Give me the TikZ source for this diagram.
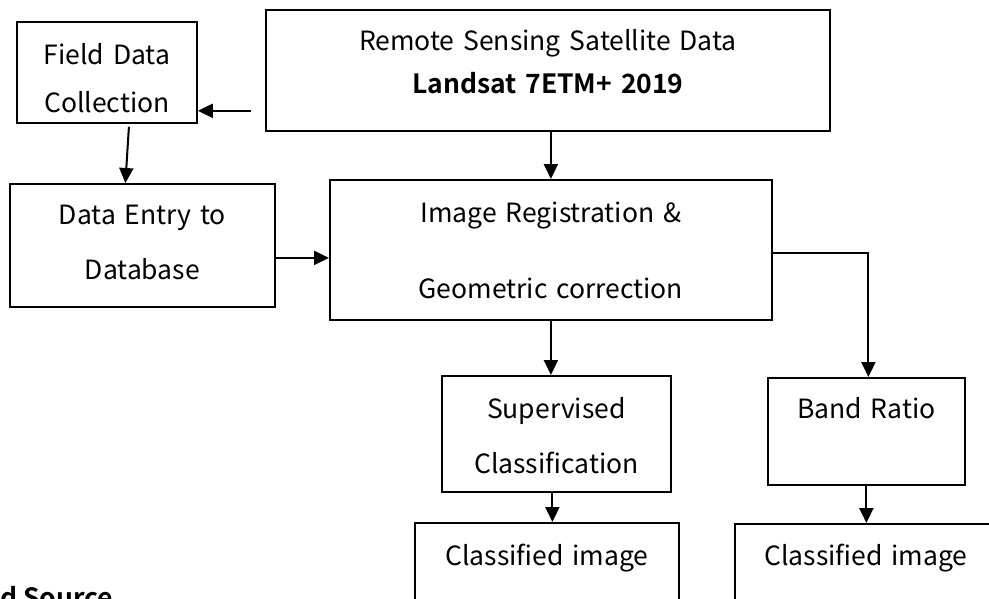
\documentclass[tikz,border=0pt]{standalone}
\usepackage{fontspec}
\setmainfont{Noto Sans CJK SC}[BoldFont={Noto Sans CJK SC Bold}]
\usetikzlibrary{arrows.meta}
\tikzset{
  flowbox/.style={draw,line width=1.8pt,anchor=north west,inner sep=0pt,align=center,font=\fontsize{26.5}{36}\selectfont},
  flowarrow/.style={line width=2pt,-{Triangle[length=15pt,width=14pt]}}
}
\begin{document}
\begin{tikzpicture}[x=1pt,y=-1pt]
        \useasboundingbox (0,0) rectangle (989,598);
        \node[flowbox,text width=180pt,text height=43pt,text depth=58pt] (field) at (16,21) {Field Data\\[12pt]Collection};
        \node[flowbox,text width=564pt,text height=41pt,text depth=80pt] (remote) at (265,9) {Remote Sensing Satellite Data\\[7pt]\textbf{Landsat 7ETM+ 2019}};
        \node[flowbox,text width=265pt,text height=41pt,text depth=82pt] (entry) at (9,183) {Data Entry to\\[19pt]Database};
        \node[flowbox,text width=442pt,text height=43pt,text depth=97pt] (imgreg) at (329,179) {Image Registration \&\\[40pt]Geometric correction};
        \node[flowbox,text width=229pt,text height=43pt,text depth=73pt] (superv) at (441,375) {Supervised\\[19pt]Classification};
        \node[flowbox,text width=197pt,text height=41pt,text depth=66pt] (band) at (767,377) {Band Ratio};
        \node[flowbox,text width=264pt,text height=43pt,text depth=90pt] (classA) at (414,522) {Classified image};
        \node[flowbox,text width=262pt,text height=42pt,text depth=90pt] (classB) at (734,523) {Classified image};
        \node[anchor=base west,inner sep=0pt,font=\fontsize{26.5}{36}\selectfont\bfseries] (source) at (0,607) {d Source};

        \draw[flowarrow] ([xshift=-14pt,yshift=21pt]remote.south west) -- ([yshift=21pt]remote.south west -| field.east);
        \draw[flowarrow] ([xshift=22pt,yshift=-3pt]field.south) -- ([xshift=-17pt]entry.north);
        \draw[flowarrow] (remote.south -| imgreg.north) -- (imgreg.north);
        \draw[flowarrow] ([yshift=-12.5pt]entry.east) -- ([yshift=-12.5pt]entry.east -| imgreg.west);
        \draw[flowarrow] ([yshift=-3pt]imgreg.east) -| ([xshift=2pt]band.north);
        \draw[flowarrow] (imgreg.south) -- (imgreg.south |- superv.north);
        \draw[flowarrow] ([xshift=-4pt]superv.south) -- ([xshift=-4pt]superv.south |- classA.north);
        \draw[flowarrow] (band.south) -- (band.south |- classB.north);
\end{tikzpicture}
\end{document}
